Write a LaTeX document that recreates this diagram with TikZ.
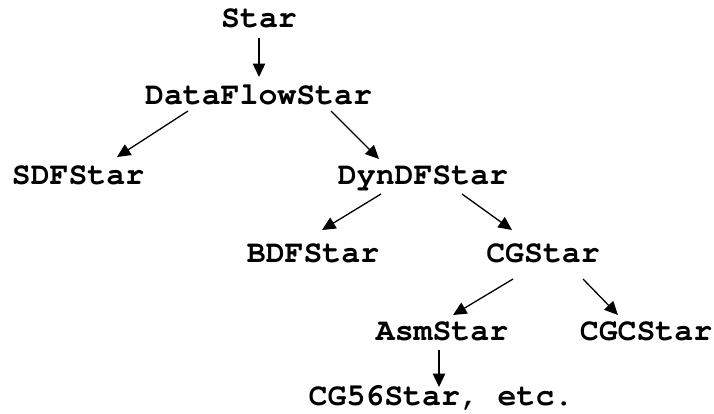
\documentclass[tikz,border=0pt]{standalone}
\usepackage[T1]{fontenc}
\usepackage{courier}
\usetikzlibrary{arrows.meta,calc}
\tikzset{
  cls/.style={anchor=base, inner sep=0pt, font=\ttfamily\bfseries\fontsize{31.5}{31.5}\selectfont},
  inh/.style={line width=1.3pt, -{Triangle[width=12.5pt,length=13.5pt]}}
}
\begin{document}
\begin{tikzpicture}[x=1pt,y=-1pt]
\useasboundingbox (0,0) rectangle (714,413);
\node[cls] (star) at (259,27) {Star};
\node[cls] (dfs) at (258.5,104) {DataFlowStar};
\node[cls] (sdf) at (78,184) {SDFStar};
\node[cls] (dyn) at (423,184) {DynDFStar};
\node[cls] (bdf) at (313,262) {BDFStar};
\node[cls] (cg) at (543,262) {CGStar};
\node[cls] (asm) at (442,340) {AsmStar};
\node[cls] (cgc) at (646,340) {CGCStar};
\node[cls] (cg56) at (441,405) {CG56Star, etc.};
\draw[inh] ($(star.base)+(0,11)$) -- ($(dfs.base)+(0.5,-27)$);
\draw[inh] ($(dfs.base)+(-70.5,7)$) -- ($(sdf.base)+(39,-27)$);
\draw[inh] ($(dfs.base)+(72.5,7)$) -- ($(dyn.base)+(-44,-25)$);
\draw[inh] ($(dyn.base)+(-42,10)$) -- ($(bdf.base)+(9,-32)$);
\draw[inh] ($(dyn.base)+(39,10)$) -- ($(cg.base)+(-31,-32)$);
\draw[inh] ($(cg.base)+(-30,17)$) -- ($(asm.base)+(11,-25)$);
\draw[inh] ($(cg.base)+(40,17)$) -- ($(cgc.base)+(-28,-25)$);
\draw[inh] ($(asm.base)+(-3,10)$) -- ($(cg56.base)+(-2,-18)$);
\end{tikzpicture}
\end{document}
